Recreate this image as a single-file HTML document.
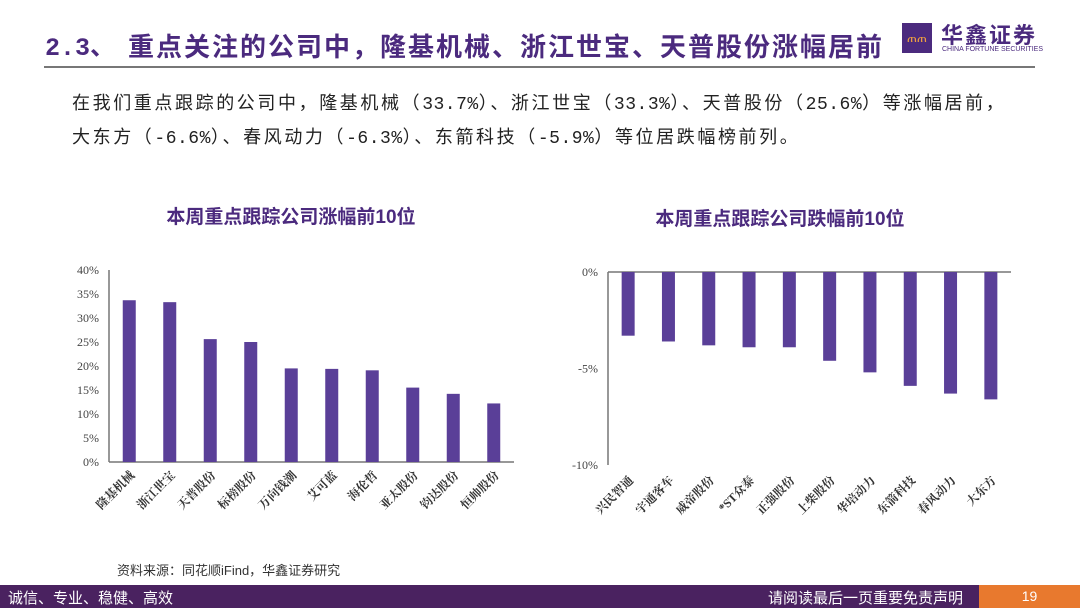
<!DOCTYPE html>
<html><head><meta charset="utf-8">
<style>
body{margin:0;width:1080px;height:608px;position:relative;background:#fff;font-family:"Liberation Sans","Noto Sans CJK SC",sans-serif;overflow:hidden}
.abs{position:absolute}
.mono{font-family:"Liberation Mono","Noto Sans CJK SC",monospace;letter-spacing:0.5px}
</style></head><body>
<div class="abs" style="left:45px;top:27px;font-size:25px;font-weight:bold;color:#4b2a7e;white-space:nowrap;font-family:'Liberation Mono','Noto Sans CJK SC',monospace">2.3、</div>
<div class="abs" style="left:128px;top:27px;font-size:26px;font-weight:bold;color:#4b2a7e;white-space:nowrap;letter-spacing:2px">重点关注的公司中，隆基机械、浙江世宝、天普股份涨幅居前</div>
<div class="abs" style="left:44px;top:66px;width:991px;height:2px;background:#777"></div>
<div class="abs" style="left:902px;top:23px;width:30px;height:30px;background:#4b2a7e;color:#f0a040;font-size:12px;text-align:center;line-height:30px">ጠጠ</div>
<div class="abs" style="left:941px;top:18px;font-size:22px;font-weight:bold;color:#4b2a7e;letter-spacing:2px">华鑫证券</div>
<div class="abs" style="left:942px;top:46px;font-size:7px;color:#4b2a7e">CHINA FORTUNE SECURITIES</div>
<div class="abs" style="left:72px;top:87px;font-size:18px;line-height:32px;color:#222;white-space:nowrap;letter-spacing:2.6px">在我们重点跟踪的公司中，隆基机械（<span class="mono">33.7%</span>）、浙江世宝（<span class="mono">33.3%</span>）、天普股份（<span class="mono">25.6%</span>）等涨幅居前，<br>大东方（<span class="mono">-6.6%</span>）、春风动力（<span class="mono">-6.3%</span>）、东箭科技（<span class="mono">-5.9%</span>）等位居跌幅榜前列。</div>
<svg class="abs" style="left:0;top:0" width="1080" height="608">
<text x="291" y="223" text-anchor="middle" font-size="19" font-weight="bold" fill="#4b2a7e">本周重点跟踪公司涨幅前10位</text>
<text x="780" y="225" text-anchor="middle" font-size="19" font-weight="bold" fill="#4b2a7e">本周重点跟踪公司跌幅前10位</text>
<g id="left"></g><g id="right"></g>
<text x="117" y="575" font-size="13" fill="#333">资料来源：同花顺iFind，华鑫证券研究</text>
</svg>
<div class="abs" style="left:0;top:585px;width:1080px;height:23px;background:#4a2260"></div>
<div class="abs" style="left:8px;top:587px;font-size:15px;color:#fff">诚信、专业、稳健、高效</div>
<div class="abs" style="left:768px;top:587px;font-size:15px;color:#fff">请阅读最后一页重要免责声明</div>
<div class="abs" style="left:979px;top:585px;width:101px;height:23px;background:#e8792e;color:#fff;font-size:14px;text-align:center;line-height:23px">19</div>
<script>
const leftCats=["隆基机械","浙江世宝","天普股份","标榜股份","万向钱潮","艾可蓝","海伦哲","亚太股份","钧达股份","恒帅股份"];
const leftVals=[33.7,33.3,25.6,25.0,19.5,19.4,19.1,15.5,14.2,12.2];
const leftTicks=["0%","5%","10%","15%","20%","25%","30%","35%","40%"];
const rightCats=["兴民智通","宇通客车","威帝股份","*ST众泰","正强股份","上柴股份","华培动力","东箭科技","春风动力","大东方"];
const rightVals=[-3.3,-3.6,-3.8,-3.9,-3.9,-4.6,-5.2,-5.9,-6.3,-6.6];
const rightTicks=["-10%","-5%","0%"];
const NS="http://www.w3.org/2000/svg";
function mk(p,t,a){const e=document.createElementNS(NS,t);for(const k in a)e.setAttribute(k,a[k]);p.appendChild(e);return e;}
function chart(g,cats,vals,ticks,tv,x0,x1,vmin,vmax,ymin,ymax,labelY,nm){
  const y=v=>ymax-(v-vmin)/(vmax-vmin)*(ymax-ymin);
  const step=(x1-x0)/cats.length;
  const ax=mk(g,'line',{x1:x0,y1:ymin,x2:x0,y2:ymax,stroke:'#777','stroke-width':1.5});
  
  
  const bx=mk(g,'line',{x1:x0,y1:y(0),x2:x1,y2:y(0),stroke:'#777','stroke-width':1.5});
  
  
  ticks.forEach((t,i)=>{const tt=mk(g,'text',{x:x0-10,y:y(tv[i])+4,'text-anchor':'end','font-size':12,fill:'#444','font-family':'Liberation Serif,serif'});tt.textContent=t;
    
    });
  cats.forEach((c,i)=>{const cx=x0+step*(i+0.5);const v=vals[i];
    const r=mk(g,'rect',{x:cx-6.5,y:Math.min(y(v),y(0)),width:13,height:Math.abs(y(v)-y(0)),fill:'#5a3f98'});
    
    
    const t=mk(g,'text',{x:cx+6,y:labelY,'text-anchor':'end','font-size':12,'font-weight':'bold',fill:'#333','font-family':'Liberation Serif,Noto Serif CJK SC,serif',transform:`rotate(-45 ${cx+6} ${labelY})`});
    t.textContent=c;
    
    });
}
chart(document.getElementById('left'),leftCats,leftVals,leftTicks,[0,5,10,15,20,25,30,35,40],109,514,0,40,270,462,476,'left');
chart(document.getElementById('right'),rightCats,rightVals,rightTicks,[-10,-5,0],608,1011,-10,0,272,465,481,'right');
</script>
</body></html>
